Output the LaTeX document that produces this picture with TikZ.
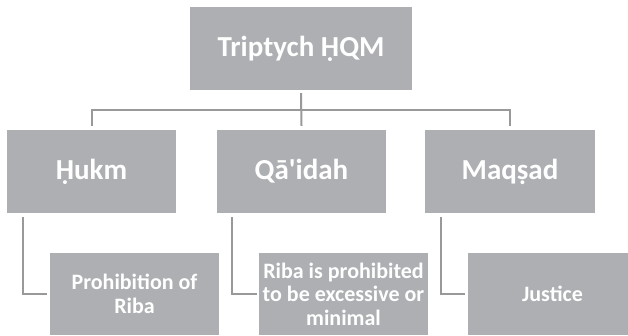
\documentclass[tikz,border=0pt]{standalone}
\usepackage{fontspec}
\setmainfont{Carlito}[Ligatures=TeXOff]
\definecolor{boxgray}{HTML}{ADAFB2}
\definecolor{linegray}{HTML}{999999}
\begin{document}
\begin{tikzpicture}[x=1pt,y=-1pt,
  box/.style={fill=boxgray,draw=none,inner sep=0pt,text=white,font=\bfseries,align=center},
  big/.style={box,font=\fontsize{29}{34}\selectfont\bfseries},
  small/.style={box,font=\fontsize{22}{23.5}\selectfont\bfseries},
  conn/.style={draw=linegray,line width=2pt}]
\useasboundingbox (0,0) rectangle (628,335);
\node[big,minimum width=222pt,minimum height=83pt] (top) at (301,48.5) {Triptych ḤQM};
\node[big,minimum width=169pt,minimum height=83pt] (hukm) at (91.5,171.5) {Ḥukm};
\node[big,minimum width=169pt,minimum height=83pt] (qaidah) at (301.5,171.5) {Qā'idah};
\node[big,minimum width=170pt,minimum height=83pt] (maqsad) at (510,171.5) {Maqṣad};
\node[small,minimum width=169pt,minimum height=82pt] (prohib) at (134.5,294) {Prohibition of\\Riba};
\node[small,minimum width=169pt,minimum height=82pt] (riba) at (343.5,294) {Riba is prohibited\\to be excessive or\\minimal};
\node[small,minimum width=169pt,minimum height=82pt] (justice) at (552.5,294) {Justice};
\coordinate (bar) at (0,110);
\draw[conn] ([yshift=4pt]hukm.north) -- (hukm.north |- bar) -- (maqsad.north |- bar) -- ([yshift=4pt]maqsad.north);
\draw[conn] ([yshift=-3pt]top.south) -- ([yshift=4pt]qaidah.north);
\draw[conn] ([xshift=16pt,yshift=-4pt]hukm.south west) |- ([xshift=-3pt]prohib.west);
\draw[conn] ([xshift=15pt,yshift=-4pt]qaidah.south west) |- ([xshift=-2pt]riba.west);
\draw[conn] ([xshift=16pt,yshift=-4pt]maqsad.south west) |- ([xshift=-3pt]justice.west);
\end{tikzpicture}
\end{document}
